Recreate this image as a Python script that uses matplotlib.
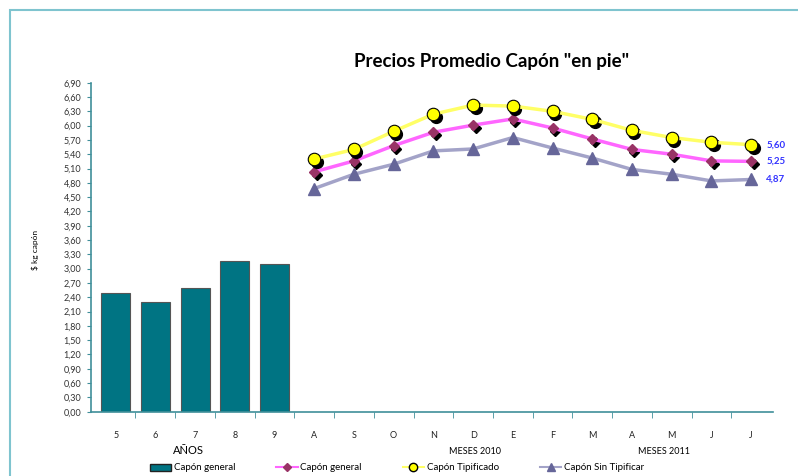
import matplotlib.pyplot as plt
import matplotlib.transforms as mtransforms
from matplotlib.lines import Line2D
from matplotlib.patches import Patch, Rectangle
import numpy as np

plt.rcParams['font.family'] = ['Lato', 'DejaVu Sans']

# categorias del eje x
categorias = ['5', '6', '7', '8', '9', 'A', 'S', 'O', 'N', 'D', 'E', 'F', 'M', 'A', 'M', 'J', 'J']

# promedios anuales (barras)
anios_pos = [0, 1, 2, 3, 4]
capon_anual = [2.48, 2.31, 2.60, 3.17, 3.10]

# meses 2010-2011 (lineas)
meses_pos = list(range(5, 17))
capon_general = [5.03, 5.26, 5.58, 5.86, 6.01, 6.14, 5.95, 5.72, 5.50, 5.40, 5.26, 5.25]
capon_tipificado = [5.30, 5.50, 5.88, 6.24, 6.43, 6.41, 6.30, 6.13, 5.90, 5.75, 5.65, 5.60]
capon_sin_tip = [4.68, 4.98, 5.19, 5.47, 5.51, 5.75, 5.53, 5.32, 5.08, 4.98, 4.84, 4.87]

yticks = np.arange(0, 6.91, 0.30)

fig = plt.figure(figsize=(7.98, 4.76), dpi=100)
ax = fig.add_axes([91 / 798, 1 - 411.7 / 476, (773 - 91) / 798, (411.7 - 82.7) / 476])

# borde del grafico
fig.patches.append(Rectangle((10 / 798, -0.1), 1.2, 1 - 10 / 476 + 0.1, transform=fig.transFigure,
                             fill=False, edgecolor='#7fc4cf', linewidth=1.5, zorder=0))

ax.bar(anios_pos, capon_anual, width=0.73, color='#007483', edgecolor='#555555', linewidth=0.8,
       zorder=2)

sombra = mtransforms.offset_copy(ax.transData, fig=fig, x=2.5, y=-3, units='dots')

ax.plot(meses_pos, capon_sin_tip, color='#a3a3c8', linewidth=2.5, zorder=3)
ax.plot(meses_pos, capon_sin_tip, linestyle='none', marker='^', markersize=8,
        color='#666699', zorder=4)

ax.plot(meses_pos, capon_general, linestyle='none', marker='D', markersize=5,
        color='black', transform=sombra, zorder=3)
ax.plot(meses_pos, capon_general, color='#ff66ff', linewidth=2.5, zorder=4)
ax.plot(meses_pos, capon_general, linestyle='none', marker='D', markersize=5,
        color='#993366', zorder=5)

ax.plot(meses_pos, capon_tipificado, linestyle='none', marker='o', markersize=8.5,
        color='black', transform=sombra, zorder=5)
ax.plot(meses_pos, capon_tipificado, color='#ffff66', linewidth=2.5, zorder=5)
ax.plot(meses_pos, capon_tipificado, linestyle='none', marker='o', markersize=9,
        markerfacecolor='#ffff00', markeredgecolor='black', markeredgewidth=0.8, zorder=6)

# etiquetas del ultimo dato
for serie in [capon_tipificado, capon_general, capon_sin_tip]:
    ax.annotate(f'{serie[-1]:.2f}'.replace('.', ','), (meses_pos[-1], serie[-1]),
                xytext=(11, 0), textcoords='offset points', va='center', ha='left',
                color='#3333ff', fontsize=7, fontweight='bold', annotation_clip=False)

ax.set_xlim(-0.62, 16.55)
ax.set_ylim(0, 6.9)
ax.set_yticks(yticks)
ax.set_yticklabels([f'{v:.2f}'.replace('.', ',') for v in yticks], fontsize=6.5, color='#333333')
ax.set_xticks(range(len(categorias)))
ax.set_xticklabels(categorias, fontsize=6.5, color='#222222')
ax.set_xticks(np.arange(0.5, 16.5, 1), minor=True)
ax.tick_params(axis='x', which='major', length=0, pad=14)
ax.tick_params(axis='x', which='minor', length=4, color='#3f8f9a', direction='out')
ax.tick_params(axis='y', length=3, color='#3f8f9a', pad=4)

for s in ['top', 'right']:
    ax.spines[s].set_visible(False)
ax.spines['left'].set_color('#3f8f9a')
ax.spines['bottom'].set_color('#3f8f9a')
ax.spines['left'].set_linewidth(1.2)
ax.spines['bottom'].set_linewidth(1.2)

fig.text(35 / 798, 1 - 250 / 476, '$ kg capón', rotation=90, ha='center', va='center', fontsize=6)
fig.text(492 / 798, 1 - 62 / 476, 'Precios Promedio Capón "en pie"', ha='center', va='center',
         fontsize=13.5, fontweight='bold')
fig.text(188 / 798, 1 - 451 / 476, 'AÑOS', ha='center', va='center', fontsize=8)
fig.text(475 / 798, 1 - 451 / 476, 'MESES 2010', ha='center', va='center', fontsize=6.5)
fig.text(664 / 798, 1 - 451 / 476, 'MESES 2011', ha='center', va='center', fontsize=6.5)

handles = [
    Patch(facecolor='#007483', edgecolor='#222222', label='Capón general'),
    Line2D([], [], color='#ff66ff', marker='D', markersize=4, markerfacecolor='#993366',
           markeredgecolor='#993366', label='Capón general'),
    Line2D([], [], color='#ffff66', marker='o', markersize=6, markerfacecolor='#ffff00',
           markeredgecolor='black', label='Capón Tipificado'),
    Line2D([], [], color='#a3a3c8', marker='^', markersize=6, markerfacecolor='#666699',
           markeredgecolor='#666699', label='Capón Sin Tipificar'),
]
fig.legend(handles=handles, loc='center', bbox_to_anchor=(397 / 798, 1 - 468 / 476), ncol=4,
           frameon=False, fontsize=7, handlelength=2.2, handletextpad=0.3, columnspacing=4.2)

fig.savefig('out.png', dpi=100)
